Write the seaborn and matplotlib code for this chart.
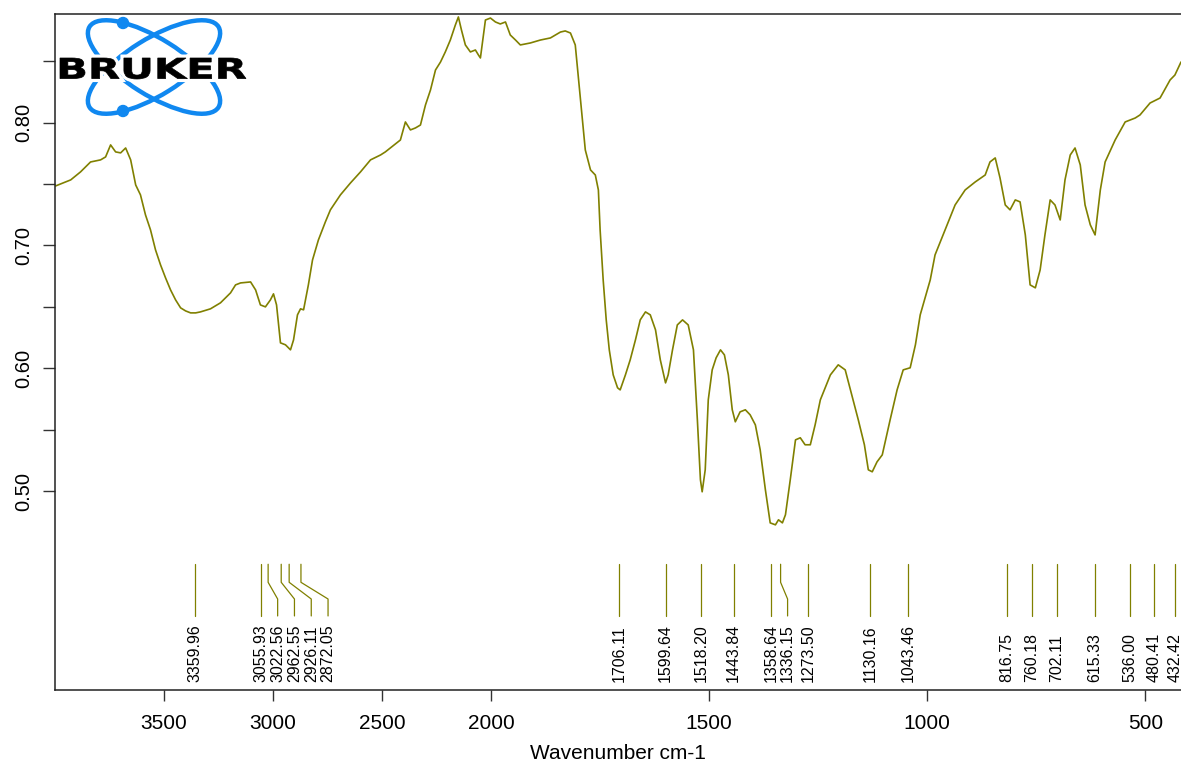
import numpy as np
import pandas as pd
import matplotlib
matplotlib.use("Agg")
import matplotlib.pyplot as plt
import seaborn as sns
from matplotlib.patches import Ellipse, Circle, PathPatch
from matplotlib.textpath import TextPath
from matplotlib.font_manager import FontProperties
from matplotlib.transforms import Affine2D

# spectrum (wavenumber cm-1, transmittance)
wavenumber = [
    3997, 3928, 3883, 3837, 3791, 3768, 3745, 3722, 3699, 3676, 3653, 3630,
    3608, 3585, 3562, 3539, 3516, 3493, 3470, 3447, 3424, 3401, 3378, 3355,
    3333, 3287, 3241, 3195, 3172, 3149, 3103, 3080, 3058, 3035, 3012, 2998,
    2984, 2966, 2943, 2920, 2906, 2888, 2874, 2860, 2838, 2819, 2792, 2760,
    2737, 2691, 2645, 2599, 2553, 2507, 2485, 2462, 2416, 2393, 2370, 2347,
    2324, 2301, 2278, 2255, 2232, 2210, 2187, 2164, 2150, 2136, 2118, 2095,
    2072, 2058, 2049, 2026, 2003, 1990, 1979, 1967, 1956, 1944, 1933, 1910,
    1887, 1864, 1841, 1830, 1818, 1807, 1795, 1784, 1772, 1761, 1754, 1750,
    1743, 1736, 1729, 1720, 1710, 1704, 1692, 1681, 1669, 1658, 1646, 1635,
    1623, 1612, 1600, 1594, 1584, 1573, 1561, 1548, 1536, 1527, 1520, 1516,
    1509, 1502, 1493, 1484, 1474, 1465, 1456, 1447, 1440, 1429, 1417, 1406,
    1394, 1383, 1371, 1360, 1348, 1341, 1332, 1325, 1314, 1302, 1291, 1280,
    1268, 1257, 1245, 1222, 1204, 1188, 1176, 1158, 1144, 1135, 1126, 1115,
    1103, 1085, 1069, 1055, 1039, 1027, 1016, 993, 982, 959, 936, 913,
    890, 867, 856, 844, 833, 821, 810, 798, 787, 775, 764, 752,
    741, 730, 718, 707, 695, 684, 672, 661, 649, 638, 626, 615,
    603, 592, 569, 546, 523, 512, 489, 466, 443, 432, 418,
]
transmittance = [
    0.7485, 0.7534, 0.7599, 0.7680, 0.7697, 0.7721, 0.7819, 0.7762, 0.7754, 0.7794, 0.7697, 0.7493,
    0.7412, 0.7249, 0.7127, 0.6964, 0.6842, 0.6736, 0.6638, 0.6557, 0.6492, 0.6467, 0.6451, 0.6451,
    0.6459, 0.6484, 0.6533, 0.6614, 0.6679, 0.6695, 0.6703, 0.6638, 0.6516, 0.6500, 0.6557, 0.6606,
    0.6516, 0.6207, 0.6191, 0.6150, 0.6231, 0.6435, 0.6484, 0.6476, 0.6679, 0.6882, 0.7045, 0.7192,
    0.7290, 0.7412, 0.7509, 0.7599, 0.7697, 0.7737, 0.7762, 0.7794, 0.7859, 0.8006, 0.7941, 0.7957,
    0.7981, 0.8144, 0.8266, 0.8429, 0.8494, 0.8576, 0.8673, 0.8795, 0.8861, 0.8755, 0.8633, 0.8576,
    0.8592, 0.8551, 0.8527, 0.8836, 0.8852, 0.8820, 0.8804, 0.8820, 0.8714, 0.8673, 0.8633, 0.8649,
    0.8673, 0.8690, 0.8738, 0.8747, 0.8730, 0.8633, 0.8185, 0.7778, 0.7615, 0.7574, 0.7452, 0.7127,
    0.6720, 0.6394, 0.6150, 0.5946, 0.5841, 0.5824, 0.5946, 0.6069, 0.6231, 0.6394, 0.6459, 0.6435,
    0.6313, 0.6069, 0.5881, 0.5946, 0.6150, 0.6353, 0.6394, 0.6353, 0.6150, 0.5580, 0.5092, 0.4994,
    0.5173, 0.5743, 0.5987, 0.6085, 0.6150, 0.6109, 0.5946, 0.5662, 0.5564, 0.5645, 0.5662, 0.5621,
    0.5539, 0.5336, 0.5010, 0.4741, 0.4725, 0.4766, 0.4741, 0.4807, 0.5092, 0.5417, 0.5434, 0.5377,
    0.5377, 0.5539, 0.5743, 0.5946, 0.6028, 0.5987, 0.5824, 0.5580, 0.5377, 0.5173, 0.5157, 0.5238,
    0.5295, 0.5580, 0.5824, 0.5987, 0.6004, 0.6191, 0.6435, 0.6720, 0.6923, 0.7127, 0.7330, 0.7452,
    0.7517, 0.7574, 0.7680, 0.7713, 0.7550, 0.7330, 0.7290, 0.7371, 0.7355, 0.7086, 0.6679, 0.6655,
    0.6801, 0.7086, 0.7371, 0.7330, 0.7208, 0.7534, 0.7737, 0.7794, 0.7656, 0.7330, 0.7168, 0.7086,
    0.7452, 0.7680, 0.7859, 0.8006, 0.8038, 0.8063, 0.8160, 0.8201, 0.8348, 0.8388, 0.8494,
]
peaks = [3359.96, 3055.93, 3022.56, 2962.55, 2926.11, 2872.05,
         1706.11, 1599.64, 1518.20, 1443.84, 1358.64, 1336.15, 1273.50,
         1130.16, 1043.46, 816.75, 760.18, 702.11, 615.33, 536.00, 480.41, 432.42]
x_ticks = [3500, 3000, 2500, 2000, 1500, 1000, 500]
y_ticks = [0.50, 0.55, 0.60, 0.65, 0.70, 0.75, 0.80, 0.85]
y_labels = ["0.50", "", "0.60", "", "0.70", "", "0.80", ""]

sns.set_style("ticks")
plt.rcParams['font.family'] = ['Liberation Sans', 'DejaVu Sans']
plt.rcParams['text.color'] = 'black'
plt.rcParams['xtick.color'] = 'black'
plt.rcParams['ytick.color'] = 'black'
plt.rcParams['axes.labelcolor'] = 'black'

OLIVE = "#808000"
W, H = 1181, 767


# OPUS style axis: the part above 2000 cm-1 is drawn at half scale
def fwd(x):
    x = np.asarray(x, dtype=float)
    return np.where(x > 2000, 2000 + (x - 2000) / 2, x)


def inv(t):
    t = np.asarray(t, dtype=float)
    return np.where(t > 2000, 2000 + (t - 2000) * 2, t)


fig = plt.figure(figsize=(W / 100, H / 100), dpi=100)
ax = fig.add_axes([55 / W, 77 / H, 1 - 55 / W, 676 / H])

df = pd.DataFrame({"wavenumber": wavenumber, "transmittance": transmittance})
sns.lineplot(data=df, x="wavenumber", y="transmittance", sort=False,
             estimator=None, color=OLIVE, lw=1.2, ax=ax,
             solid_joinstyle="round", solid_capstyle="round")

ax.set_xscale("function", functions=(fwd, inv))
ax.set_xlim(4000, 418)
ax.set_ylim(0.338, 0.8885)
ax.set_xticks(x_ticks)
ax.set_xticklabels([str(t) for t in x_ticks])
ax.minorticks_off()
ax.set_yticks(y_ticks)
ax.set_yticklabels(y_labels, rotation=90, va="center")
ax.set_xlabel("Wavenumber cm-1", fontsize=15, labelpad=8)
ax.set_ylabel("")
ax.tick_params(axis="x", labelsize=15, length=8, width=1, pad=9, color="#333333")
ax.tick_params(axis="y", labelsize=14.5, length=8.5, width=1, pad=7, color="#333333")
for side in ["left", "bottom", "top"]:
    ax.spines[side].set_color("#222222")
    ax.spines[side].set_linewidth(1.1)
ax.spines["right"].set_visible(False)

# peak marks, labels pushed apart where they would collide
top, knee1, knee2, bottom, text_y = 0.4404, 0.4257, 0.4121, 0.3983, 0.3445
gap = 16.8
to_px = ax.transData
from_px = ax.transData.inverted()
last = None
for p in peaks:
    xp = to_px.transform((p, 0.4))[0]
    q = xp if last is None or xp >= last + gap else last + gap
    last = q
    wl = from_px.transform((q, 0.4))[0]
    if abs(q - xp) < 0.5:
        ax.plot([p, p], [top, bottom], color=OLIVE, lw=0.9)
    else:
        ax.plot([p, p, wl, wl], [top, knee1, knee2, bottom], color=OLIVE, lw=0.9)
    ax.text(wl, text_y, f"{p:.2f}", rotation=90, ha="center", va="bottom",
            fontsize=11.5, color="black")

# Bruker logo, drawn in figure pixels
logo = fig.add_axes([0, 0, 1, 1], zorder=5)
logo.set_xlim(0, W)
logo.set_ylim(H, 0)
logo.axis("off")
logo.patch.set_alpha(0)
blue = "#1088f0"
cx, cy = 154, 67
for ang in (32, -32):
    logo.add_patch(Ellipse((cx, cy), 152, 56, angle=ang, fill=False,
                           edgecolor=blue, lw=3.2))
logo.add_patch(Circle((123, 23), 5.5, color=blue))
logo.add_patch(Circle((123, 111), 5.5, color=blue))
tp = TextPath((0, 0), "BRUKER", prop=FontProperties(family="DejaVu Sans", weight="bold"))
ext = tp.get_extents()
tr = (Affine2D().translate(-ext.x0, -ext.y0)
      .scale(186 / ext.width, -21 / ext.height).translate(60, 79))
path = tr.transform_path(tp)
logo.add_patch(PathPatch(path, facecolor="white", edgecolor="white", lw=5))
logo.add_patch(PathPatch(path, facecolor="black", edgecolor="black", lw=0.5))

fig.savefig("out.png", dpi=100)
